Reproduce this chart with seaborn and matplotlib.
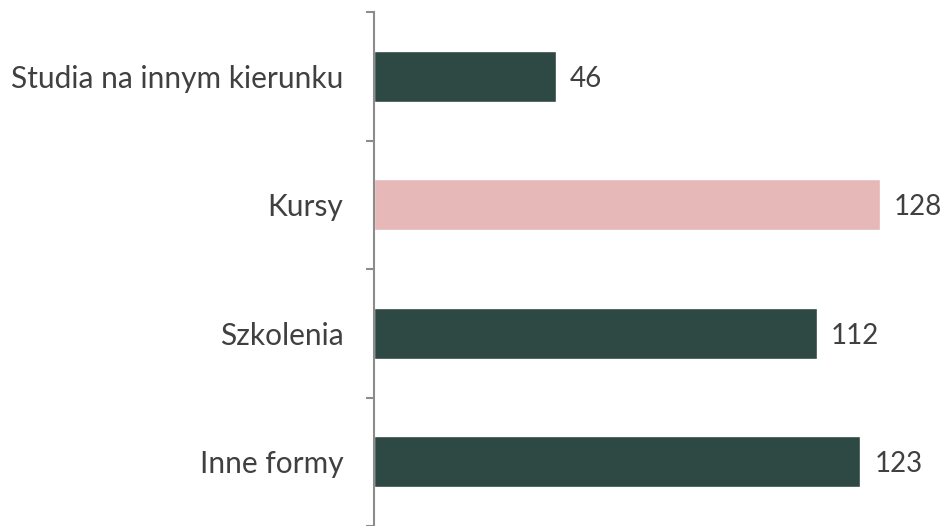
import matplotlib
matplotlib.use("Agg")
import matplotlib.pyplot as plt
import seaborn as sns
import pandas as pd

# Dane
categories = ["Studia na innym kierunku", "Kursy", "Szkolenia", "Inne formy"]
values = [46, 128, 112, 123]
colors = ["#2E4843", "#E6B8B8", "#2E4843", "#2E4843"]

df = pd.DataFrame({"Forma": categories, "Liczba": values})

sns.set_style("white")
plt.rcParams["font.family"] = ["Lato", "DejaVu Sans"]

fig = plt.figure(figsize=(9.45, 5.26), dpi=100)
ax = fig.add_axes([374 / 945, 0.0, 1 - 374 / 945, 1 - 12 / 526])

sns.barplot(data=df, y="Forma", x="Liczba", hue="Forma", palette=colors,
            orient="h", width=0.4, legend=False, saturation=1, ax=ax)

ax.set_xlim(0, 144.4)
ax.set_ylim(3.5, -0.5)
ax.set_xlabel("")
ax.set_ylabel("")
ax.set_xticks([])

for side in ["top", "right", "bottom"]:
    ax.spines[side].set_visible(False)
ax.spines["left"].set_color("#8C8C8C")
ax.spines["left"].set_linewidth(1.5)

ax.set_yticks(range(len(categories)))
ax.set_yticklabels(categories, fontsize=21.5, color="#404040")
ax.tick_params(axis="y", which="major", left=True, length=0, pad=22)
ax.set_yticks([-0.5, 0.5, 1.5, 2.5, 3.5], minor=True)
ax.tick_params(axis="y", which="minor", left=True, length=6, width=1.5,
               color="#8C8C8C", direction="out")

for cont in ax.containers:
    labels = ax.bar_label(cont, padding=10, fontsize=20, color="#404040")
    for t in labels:
        t.set_verticalalignment("center_baseline")

fig.savefig("out.png", dpi=100)
